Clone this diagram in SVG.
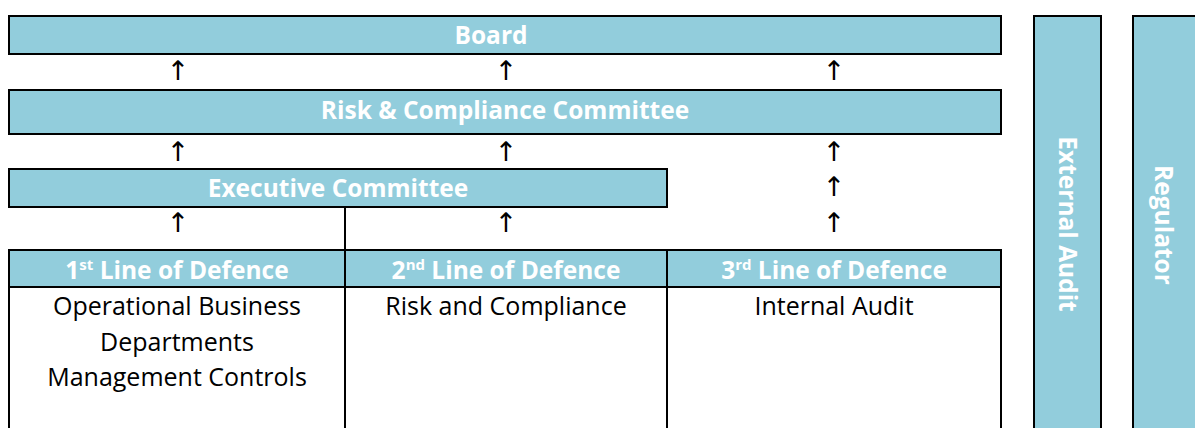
<svg xmlns="http://www.w3.org/2000/svg" width="1195" height="428" viewBox="0 0 1195 428">
<style>
.box{fill:#92CDDC;stroke:#000;stroke-width:2}
.cell{fill:#fff;stroke:#000;stroke-width:2}
.h{font-family:"Open Sans","Liberation Sans",sans-serif;font-weight:bold;font-size:24.5px;fill:#fff;text-anchor:middle}
.b{font-family:"Open Sans","Liberation Sans",sans-serif;font-size:25px;fill:#000;text-anchor:middle}
.ar{font-family:"DejaVu Sans",sans-serif;font-size:27px;fill:#000;text-anchor:middle}
</style>
<rect width="1195" height="428" fill="#fff"/>
<g id="board"><rect class="box" x="9" y="16" width="992" height="38"/><text class="h" x="491" y="44">Board</text></g>
<g id="rcc"><rect class="box" x="9" y="90" width="992" height="44"/><text class="h" x="505" y="119">Risk &amp; Compliance Committee</text></g>
<g id="exec"><rect class="box" x="9" y="169" width="658" height="38"/><text class="h" x="338" y="197">Executive Committee</text></g>
<g id="line1"><rect class="cell" x="9" y="287" width="336" height="150"/><rect class="box" x="9" y="250" width="336" height="37"/><text class="h" x="177" y="279">1<tspan font-size="15" dy="-9">st</tspan><tspan dy="9"> Line of Defence</tspan></text>
<text class="b" x="177" y="315">Operational Business</text><text class="b" x="177" y="351">Departments</text><text class="b" x="177" y="386">Management Controls</text></g>
<g id="line2"><rect class="cell" x="345" y="287" width="322" height="150"/><rect class="box" x="345" y="250" width="322" height="37"/><text class="h" x="506" y="279">2<tspan font-size="15" dy="-9">nd</tspan><tspan dy="9"> Line of Defence</tspan></text>
<text class="b" x="506" y="315">Risk and Compliance</text></g>
<g id="line3"><rect class="cell" x="667" y="287" width="334" height="150"/><rect class="box" x="667" y="250" width="334" height="37"/><text class="h" x="834" y="279">3<tspan font-size="15" dy="-9">rd</tspan><tspan dy="9"> Line of Defence</tspan></text>
<text class="b" x="834" y="315">Internal Audit</text></g>
<g id="extaudit"><rect class="box" x="1034" y="16" width="67" height="430"/><text class="h" transform="translate(1059,224) rotate(90)">External Audit</text></g>
<g id="regulator"><rect class="box" x="1133" y="16" width="80" height="430"/><text class="h" transform="translate(1155,225) rotate(90)">Regulator</text></g>
<g id="connectors">
<line x1="345" y1="207" x2="345" y2="250" stroke="#000" stroke-width="2"/>
<text class="ar" x="178" y="80">↑</text><text class="ar" x="506" y="80">↑</text><text class="ar" x="834" y="80">↑</text>
<text class="ar" x="178" y="161">↑</text><text class="ar" x="506" y="161">↑</text><text class="ar" x="834" y="161">↑</text>
<text class="ar" x="834" y="196">↑</text>
<text class="ar" x="178" y="232">↑</text><text class="ar" x="506" y="232">↑</text><text class="ar" x="834" y="232">↑</text>
</g>
</svg>
